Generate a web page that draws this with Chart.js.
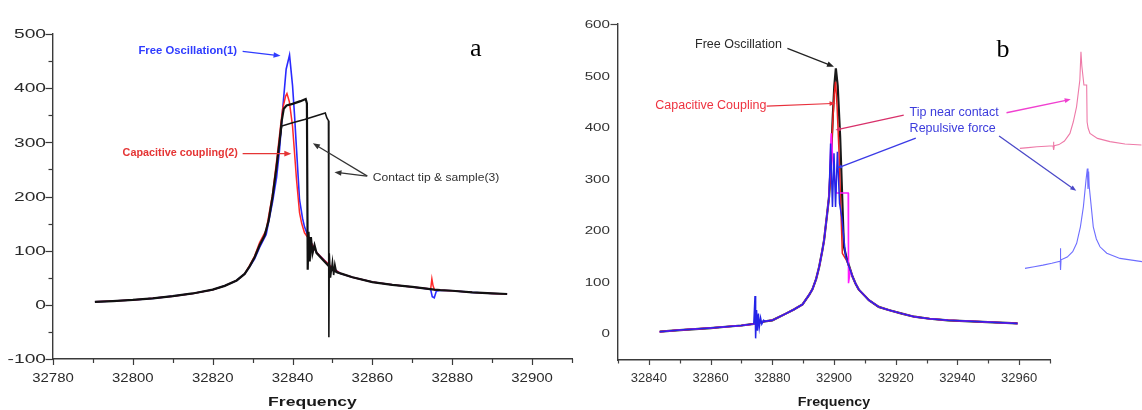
<!DOCTYPE html>
<html><head><meta charset="utf-8">
<script src="https://cdn.jsdelivr.net/npm/chart.js@4.4.1/dist/chart.umd.min.js"></script>
<style>
html,body{margin:0;padding:0;background:#fff;width:1142px;height:410px;overflow:hidden;}
canvas{position:absolute;}
#ca{left:0;top:0;width:580px;height:410px;}
#cb{left:580px;top:0;width:562px;height:410px;}
#ci{left:1010px;top:30px;width:132px;height:250px;}
</style></head><body>
<canvas id="ca" width="580" height="410"></canvas>
<canvas id="cb" width="562" height="410"></canvas>
<canvas id="ci" width="132" height="250"></canvas>
<script>
// ---------- Panel a data (Frequency, amplitude) ----------
const aLeftF = [32790.5,32795,32800,32805,32810,32815,32820,32823,32826,32828];
const aLeftV = [5.5,7,9,12,16,21,28,35,45,57];
const aTail1F = [32852,32855,32860,32865,32870,32874];
const aTail1V = [58,51,42,37,33,29.5];
const aTail2F = [32877,32880,32885,32890,32893.75];
const aTail2V = [27,26,23,21,20];
const aBlackPeakF = [32829.25,32830.5,32831.75,32833,32834,32835,32836,32836.8,32837.3,32837.8,32838.5,32840,32842,32843.3,32843.6,32843.8,32844,32844.3,32844.6,32845,32845.5,32846,32847,32848,32849,32850];
const aBlackPeakV = [71,88,110,128,155,200,255,305,340,362,368,371,376,380,372,65,135,80,125,95,110,96,88,80,72,64];
const aBlackMidF = [32875.5];
const aBlackMidV = [28];
const aBlack2F = [32836.9,32837.3,32840,32843,32846,32848.2,32848.6,32849,32849.1,32849.2,32849.5,32850,32850.3,32850.6,32851,32852];
const aBlack2V = [310,330,336,342,349,354,345,340,-60,95,50,80,55,75,60,58];
const aBluePeakF = [32829.25,32830.5,32831.75,32833.4,32835,32836,32836.75,32837.6,32838.4,32839.25,32840,32840.5,32841,32841.75,32842.5,32843,32844.25,32846,32848,32850];
const aBluePeakV = [70,85,106,130,190,235,287,367,435,461,405,350,287,194,160,144,120,97,82,68];
const aBlueDipF = [32874.6,32875,32875.5,32876];
const aBlueDipV = [28,15,13,25];
const aRedPeakF = [32829.25,32830.5,32831.75,32833.4,32835,32836,32837,32837.5,32838.25,32838.6,32839.2,32840,32841,32841.75,32842.3,32843,32844.25,32846,32848,32850];
const aRedPeakV = [73,90,115,138,205,265,330,361,385,390,375,330,231,170,150,133,120,97,82,68];
const aRedBlipF = [32874.6,32874.9,32875.2,32875.6];
const aRedBlipV = [29,48,35,27];
const aXTicks = ['32780','32800','32820','32840','32860','32880','32900'];
const aYTicks = ['-100','0','100','200','300','400','500'];

// ---------- Panel b data ----------
const bLeft1F = [32843.5,32850,32855,32860,32865,32870,32874];
const bLeft1V = [3,6,8,10,12.5,15,18];
const bLeft2F = [32877.5,32880,32884.4,32887,32889.8,32892,32893,32894.2,32895.2,32896.2,32896.8,32897.8,32898.4];
const bLeft2V = [23,25,38,46,56,75,85,105,129,160,181,233,265];
const bRightF = [32906,32907,32908,32911.3,32914.5,32917.7,32922,32926,32931,32937,32948,32959.5];
const bRightV = [110,96,85,64,51,45,38,32,28,25,22,19];
const bBlackPeakF = [32899,32899.6,32900.1,32900.6,32901.2,32902,32903.2,32904,32904.8];
const bBlackPeakV = [330,420,480,514,480,380,168,148,132];
const bRedPeakF = [32899,32899.6,32900.1,32900.5,32901,32901.6,32902.7,32904,32904.8];
const bRedPeakV = [330,410,465,488,440,355,155,142,130];
const bMagPeakF = [32899.1,32899.6,32900.2,32900.8,32904.6,32904.7,32905.3];
const bMagPeakV = [388,340,300,272,272,97,122];
const bBluePeakF = [32898.9,32899.5,32900,32900.5,32901.1,32901.8,32902.5,32903.8,32904.8];
const bBluePeakV = [368,245,349,245,352,252,226,148,130];
const bBlueNoiseF = [32874.4,32874.6,32874.9,32875.2,32875.5,32875.8,32876.2,32876.6,32877.2];
const bBlueNoiseV = [72,-10,45,5,38,12,30,18,25];
const bXTicks = ['32840','32860','32880','32900','32920','32940','32960'];
const bYTicks = ['0','100','200','300','400','500','600'];

// ---------- Insets (panel b, right) ----------
const insPinkF = [32844.5,32852,32860,32868,32874.6,32875,32875.4,32875.8,32880,32885,32890,32893,32896,32899,32900,32900.8,32902.7,32905.2,32905.6,32906.5,32908.2,32915,32926.4,32940,32955];
const insPinkV = [8,12,16,19,21,41,0,22,27,45,83,140,216,350,491,420,325,325,140,110,83,58,42,30,25];
const insBlueF = [32843.6,32852,32860,32868,32875.6,32875.8,32876.1,32876.4,32882,32887,32890.6,32894,32896.7,32899.1,32900.3,32900.9,32901.5,32902,32903,32905.7,32908.5,32911.8,32918,32930,32950];
const insBlueV = [6,12,18,25,33,81,0,38,48,68,99,160,234,333,376,300,365,310,270,160,115,86,62,43,31];

// ---------- Annotations (anchored in data coordinates) ----------
const aNotes = [
  {text:'Free Oscillation(1)', f:32826.1, v:463, align:'right', font:'bold 10px "Liberation Sans", Arial', color:'#2f3cff', sx:1.13},
  {text:'Capacitive coupling(2)', f:32826.3, v:274, align:'right', font:'bold 10px "Liberation Sans", Arial', color:'#e53535', sx:1.08},
  {text:'Contact tip & sample(3)', f:32860.1, v:227.8, align:'left', font:'11px "Liberation Sans", Arial', color:'#333', sx:1.1},
  {text:'a', f:32885.9, v:459, align:'center', font:'26px "Liberation Serif", serif', color:'#000', sx:1}
];
const aArrows = [
  {f1:32827.5, v1:467.9, f2:32837, v2:459.8, color:'#2f3cff', w:1.2, head:7},
  {f1:32827.5, v1:279.1, f2:32839.7, v2:279.1, color:'#e53535', w:1.2, head:7},
  {f1:32858.75, v1:237.6, f2:32845.1, v2:298.1, color:'#333', w:1.2, head:7},
  {f1:32858.6, v1:237.6, f2:32850.5, v2:245, color:'#333', w:1.2, head:7}
];
const bNotes = [
  {text:'Free Oscillation', f:32883.1, v:553.4, align:'right', font:'12.5px "Liberation Sans", Arial', color:'#2a2a2a', sx:1},
  {text:'Capacitive Coupling', f:32878.1, v:435.9, align:'right', font:'12.5px "Liberation Sans", Arial', color:'#ee3340', sx:1},
  {text:'Tip near contact', f:32924.5, v:421.4, align:'left', font:'12.5px "Liberation Sans", Arial', color:'#3c3cdc', sx:1},
  {text:'Repulsive force', f:32924.5, v:390.3, align:'left', font:'12.5px "Liberation Sans", Arial', color:'#3c3cdc', sx:1},
  {text:'b', f:32954.8, v:535.9, align:'center', font:'26px "Liberation Serif", serif', color:'#000', sx:1}
];
const bArrows = [
  {f1:32884.9, v1:552.8, f2:32900, v2:517.1, color:'#222', w:1.2, head:7},
  {f1:32878.2, v1:440.8, f2:32900.5, v2:446, color:'#e8303c', w:1.2, head:6},
  {f1:32922.6, v1:423.3, f2:32900.5, v2:394.2, color:'#d8306a', w:1.3, head:5},
  {f1:32926.5, v1:378.6, f2:32901, v2:320.4, color:'#3a3ae6', w:1.3, head:5},
  {f1:32955.9, v1:427.8, f2:32976.7, v2:453.8, color:'#f040d0', w:1.3, head:6},
  {f1:32953.5, v1:382.5, f2:32978.5, v2:276.3, color:'#4a48c8', w:1.3, head:6}
];

// ---------- helpers ----------
function pts(F, V){ return F.map((f,i)=>({x:f, y:V[i]})); }
function cat(){ let o=[]; for (let i=0;i<arguments.length;i+=2) o=o.concat(pts(arguments[i], arguments[i+1])); return o; }
function drawText(ctx, s, x, y, o){
  ctx.save(); ctx.font=o.font; ctx.fillStyle=o.color; ctx.textBaseline='alphabetic';
  ctx.textAlign=o.align||'left'; ctx.translate(x,y); ctx.scale(o.sx||1,1); ctx.fillText(s,0,0); ctx.restore();
}
function arrow(ctx,x1,y1,x2,y2,color,w,head){
  ctx.save(); ctx.strokeStyle=color; ctx.fillStyle=color; ctx.lineWidth=w;
  const a=Math.atan2(y2-y1,x2-x1);
  ctx.beginPath(); ctx.moveTo(x1,y1); ctx.lineTo(x2-head*0.6*Math.cos(a), y2-head*0.6*Math.sin(a)); ctx.stroke();
  if(head){ const L=head, W=head*0.4;
    ctx.beginPath(); ctx.moveTo(x2,y2);
    ctx.lineTo(x2-L*Math.cos(a)+W*Math.sin(a), y2-L*Math.sin(a)-W*Math.cos(a));
    ctx.lineTo(x2-L*Math.cos(a)-W*Math.sin(a), y2-L*Math.sin(a)+W*Math.cos(a));
    ctx.closePath(); ctx.fill(); }
  ctx.restore();
}
function decoPlugin(c){
  return { id:'deco', afterDraw(chart){
    const ctx=chart.ctx, xs=chart.scales.x, ys=chart.scales.y, ca=chart.chartArea;
    ctx.save(); ctx.strokeStyle=c.axisColor; ctx.lineWidth=1.2;
    xs.ticks.forEach(t=>{ const v=t.value; if (Math.abs(v/c.xStep-Math.round(v/c.xStep))>1e-6) return;
      const major=Math.abs(v%c.xMajor)<1e-6; const px=Math.round(xs.getPixelForValue(v))+0.5;
      ctx.beginPath(); ctx.moveTo(px,ca.bottom); ctx.lineTo(px,ca.bottom+(major?c.xMajLen:c.xMinLen)); ctx.stroke(); });
    ys.ticks.forEach(t=>{ const v=t.value; if (Math.abs(v/c.yStep-Math.round(v/c.yStep))>1e-6) return;
      const major=Math.abs(v%c.yMajor)<1e-6; const py=Math.round(ys.getPixelForValue(v))+0.5;
      ctx.beginPath(); ctx.moveTo(ca.left,py); ctx.lineTo(ca.left-(major?c.yMajLen:c.yMinLen),py); ctx.stroke(); });
    ctx.restore();
    c.xLabels.forEach(s=>drawText(ctx,s,xs.getPixelForValue(Number(s)),c.xLabelBase,{font:c.xLabelFont,color:c.labelColor,align:'center',sx:c.xLabelSx}));
    c.yLabels.forEach(s=>drawText(ctx,s,ca.left-c.yLabelGap,ys.getPixelForValue(Number(s))+c.yLabelDy,{font:c.yLabelFont,color:c.labelColor,align:'right',sx:c.yLabelSx}));
    drawText(ctx,c.title,(ca.left+ca.right)/2,c.titleBase,{font:c.titleFont,color:c.titleColor,align:'center',sx:c.titleSx});
    c.arrows.forEach(a=>arrow(ctx,xs.getPixelForValue(a.f1),ys.getPixelForValue(a.v1),xs.getPixelForValue(a.f2),ys.getPixelForValue(a.v2),a.color,a.w,a.head));
    c.notes.forEach(n=>drawText(ctx,n.text,xs.getPixelForValue(n.f),ys.getPixelForValue(n.v),n));
  }};
}
function lineDs(data,color,w){ return {data, borderColor:color, borderWidth:w, pointRadius:0, tension:0, fill:false}; }
function baseOpts(xmin,xmax,ymin,ymax,yW,xH,pad){
  return { responsive:false, animation:false, events:[], devicePixelRatio:1,
    layout:{padding:pad},
    plugins:{legend:{display:false}, tooltip:{enabled:false}},
    scales:{
      x:{type:'linear', min:xmin, max:xmax, ticks:{display:false, stepSize:10, includeBounds:false},
         grid:{display:false}, border:{display:true, color:'#3a3a3a', width:1.4},
         afterFit:s=>{s.height=xH;}},
      y:{type:'linear', min:ymin, max:ymax, ticks:{display:false, stepSize:50, includeBounds:false},
         grid:{display:false}, border:{display:true, color:'#3a3a3a', width:1.4},
         afterFit:s=>{s.width=yW;}}
    }};
}

// ---------- Panel a ----------
new Chart(document.getElementById('ca'), {
  type:'line',
  data:{datasets:[
    lineDs(pts(aBlack2F,aBlack2V),'#151515',1.6),
    lineDs(cat(aLeftF,aLeftV,aBlackPeakF,aBlackPeakV,aTail1F,aTail1V,aBlackMidF,aBlackMidV,aTail2F,aTail2V),'#111',2.2),
    lineDs(cat(aLeftF,aLeftV,aRedPeakF,aRedPeakV,aTail1F,aTail1V,aRedBlipF,aRedBlipV,aTail2F,aTail2V),'#ff2a2a',1.5),
    lineDs(cat(aLeftF,aLeftV,aBluePeakF,aBluePeakV,aTail1F,aTail1V,aBlueDipF,aBlueDipV,aTail2F,aTail2V),'#2a2aff',1.6)
  ]},
  options:baseOpts(32780,32910,-100,500,53,51,{left:0,top:34,right:8,bottom:0}),
  plugins:[decoPlugin({axisColor:'#3a3a3a', xStep:10, xMajor:20, xMajLen:6, xMinLen:4, yStep:50, yMajor:100, yMajLen:7.5, yMinLen:4.5,
    xLabels:aXTicks, xLabelFont:'13px "Liberation Sans", Arial', xLabelSx:1.15, xLabelBase:381.5, labelColor:'#2a2a2a',
    yLabels:aYTicks, yLabelFont:'12px "Liberation Sans", Arial', yLabelSx:1.6, yLabelGap:7, yLabelDy:4.3,
    title:'Frequency', titleFont:'bold 13.5px "Liberation Sans", Arial', titleSx:1.3, titleBase:405.5, titleColor:'#1a1a1a',
    notes:aNotes, arrows:aArrows})]
});

// ---------- Panel b ----------
new Chart(document.getElementById('cb'), {
  type:'line',
  data:{datasets:[
    lineDs(cat(bLeft1F,bLeft1V,bBlueNoiseF,bBlueNoiseV,bLeft2F,bLeft2V,bBluePeakF,bBluePeakV,bRightF,bRightV),'#2424e8',1.5),
    lineDs(cat(bLeft1F,bLeft1V,bLeft2F,bLeft2V,bMagPeakF,bMagPeakV,bRightF,bRightV),'#ff1aff',1.5),
    lineDs(cat(bLeft1F,bLeft1V,bLeft2F,bLeft2V,bRedPeakF,bRedPeakV,bRightF,bRightV),'#ee2020',1.5),
    lineDs(cat(bLeft1F,bLeft1V,bLeft2F,bLeft2V,bBlackPeakF,bBlackPeakV,bRightF,bRightV),'#1a1a1a',2.2)
  ]},
  options:baseOpts(32830,32970,-52,600,38,50,{left:0,top:24,right:92,bottom:0}),
  plugins:[decoPlugin({axisColor:'#444', xStep:10, xMajor:20, xMajLen:5, xMinLen:3.5, yStep:50, yMajor:100, yMajLen:7.5, yMinLen:5,
    xLabels:bXTicks, xLabelFont:'13px "Liberation Sans", Arial', xLabelSx:1.0, xLabelBase:381.5, labelColor:'#333',
    yLabels:bYTicks, yLabelFont:'11px "Liberation Sans", Arial', yLabelSx:1.38, yLabelGap:8, yLabelDy:4,
    title:'Frequency', titleFont:'bold 13px "Liberation Sans", Arial', titleSx:1.1, titleBase:405.5, titleColor:'#1a1a1a',
    notes:bNotes, arrows:bArrows})]
});

// ---------- Insets ----------
new Chart(document.getElementById('ci'), {
  type:'line',
  data:{datasets:[
    Object.assign(lineDs(pts(insPinkF,insPinkV),'#ee7aa8',1.1),{xAxisID:'x',yAxisID:'y'}),
    Object.assign(lineDs(pts(insBlueF,insBlueV),'#6e6eff',1.1),{xAxisID:'x2',yAxisID:'y2'})
  ]},
  options:{responsive:false, animation:false, events:[], devicePixelRatio:1, layout:{padding:0},
    plugins:{legend:{display:false}, tooltip:{enabled:false}},
    scales:{
      x:{type:'linear', display:false, min:32835.5, max:32955.5},
      x2:{type:'linear', axis:'x', position:'bottom', display:false, min:32830, max:32950},
      y:{type:'linear', display:false, min:-650, max:600},
      y2:{type:'linear', axis:'y', position:'left', display:false, min:-37, max:889}
    }}
});
</script></body></html>
